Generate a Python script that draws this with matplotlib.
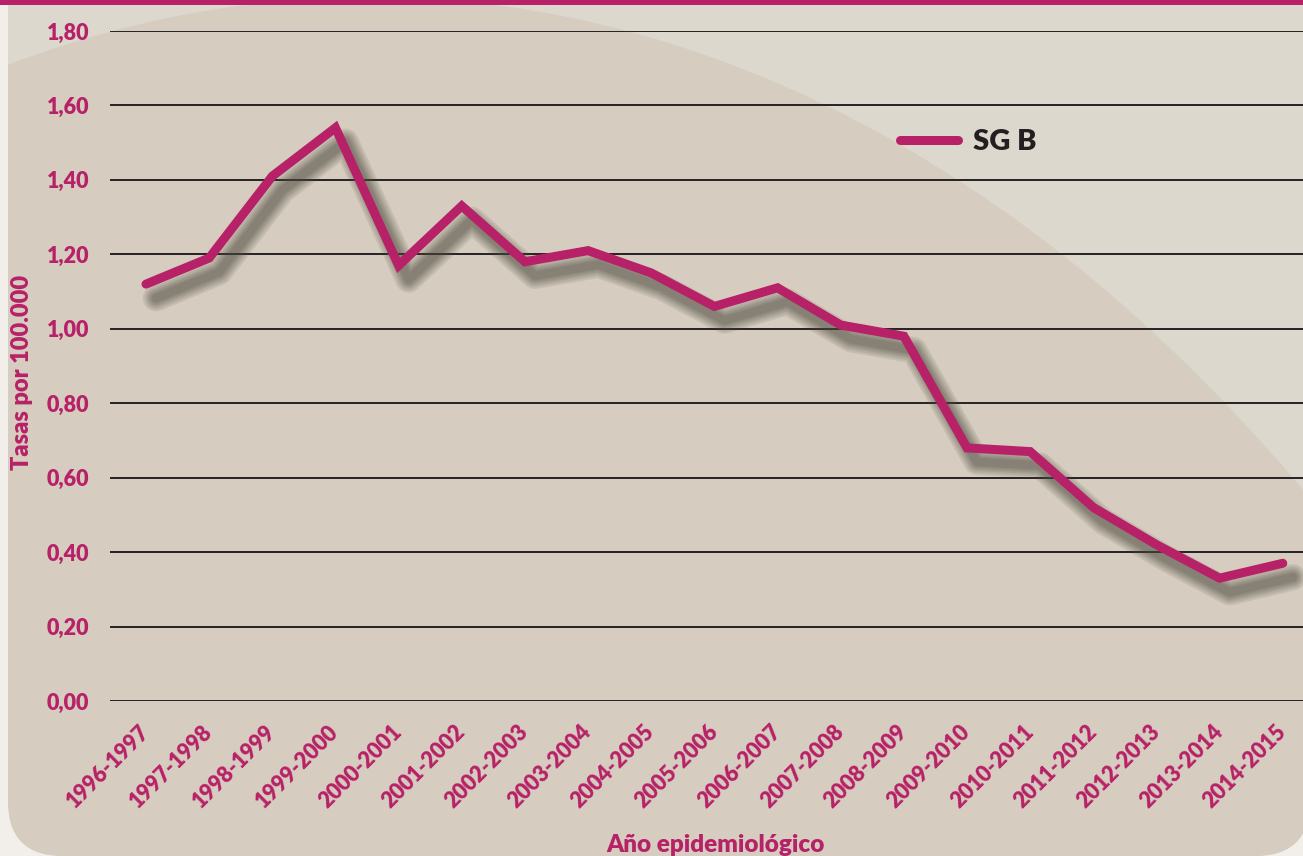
import numpy as np
import matplotlib
matplotlib.use("Agg")
import matplotlib.pyplot as plt
import matplotlib.patches as mpatches
import matplotlib.transforms as mtransforms

# ── data ───────────────────────────────────────────────────────────────────
temporadas = ["1996-1997", "1997-1998", "1998-1999", "1999-2000", "2000-2001",
              "2001-2002", "2002-2003", "2003-2004", "2004-2005", "2005-2006",
              "2006-2007", "2007-2008", "2008-2009", "2009-2010", "2010-2011",
              "2011-2012", "2012-2013", "2013-2014", "2014-2015"]
tasas_sgb = [1.12, 1.19, 1.41, 1.54, 1.17, 1.33, 1.18, 1.21, 1.15, 1.06,
             1.11, 1.01, 0.98, 0.68, 0.67, 0.52, 0.42, 0.33, 0.37]
yticks = [0.0, 0.2, 0.4, 0.6, 0.8, 1.0, 1.2, 1.4, 1.6, 1.8]
ytick_labels = ["0,00", "0,20", "0,40", "0,60", "0,80",
                "1,00", "1,20", "1,40", "1,60", "1,80"]

# ── colours ────────────────────────────────────────────────────────────────
MAGENTA = "#b72167"
OUTER   = "#f2efeb"
PANEL   = "#dcd8cd"
SHADE   = "#d6cdc0"
GRID    = "#262223"
SHADOW  = "#4d4a40"
WEIGHT  = "heavy"

plt.rcParams["font.family"] = ["Lato", "DejaVu Sans"]

W, H = 1303, 856
fig = plt.figure(figsize=(W / 100, H / 100), dpi=100)
fig.patch.set_facecolor(OUTER)

# ── background decoration (pixel coords) ───────────────────────────────────
bg = fig.add_axes([0, 0, 1, 1], zorder=0)
bg.set_xlim(0, W)
bg.set_ylim(H, 0)
bg.axis("off")

panel = mpatches.FancyBboxPatch((8, -80), 1302, 936,
                                boxstyle="round,pad=0,rounding_size=55",
                                facecolor=PANEL, edgecolor="none")
bg.add_patch(panel)
shade = mpatches.Ellipse((370, 2478), 2 * 1560, 2 * 2481,
                         facecolor=SHADE, edgecolor="none")
bg.add_patch(shade)
shade.set_clip_path(panel)
bg.add_patch(mpatches.Rectangle((0, 0), W, 5, facecolor=MAGENTA, edgecolor="none"))

# ── chart ──────────────────────────────────────────────────────────────────
ax = fig.add_axes([110 / W, (H - 701) / H, (W - 110) / W, (701 - 31) / H], zorder=1)
ax.patch.set_alpha(0)
x = np.arange(len(temporadas))

# soft drop shadow: stacked translucent strokes, shifted right/down
shadow_tr = mtransforms.offset_copy(ax.transData, fig=fig, x=10, y=-14, units="dots")
for lw in [19, 16, 13, 10.5, 8, 6]:
    ax.plot(x, tasas_sgb, color=SHADOW, lw=lw, alpha=0.13, transform=shadow_tr,
            solid_capstyle="round", solid_joinstyle="round", zorder=2)

ax.plot(x, tasas_sgb, color=MAGENTA, lw=6.5, solid_capstyle="round",
        solid_joinstyle="miter", zorder=3, label="SG B")

ax.set_xlim(-0.57, 18.32)
ax.set_ylim(0, 1.8)
ax.set_yticks(yticks)
ax.set_yticklabels(ytick_labels)
ax.set_xticks(x)
ax.set_xticklabels(temporadas, rotation=45, ha="right", va="center",
                   rotation_mode="anchor")
ax.tick_params(axis="both", length=0, labelcolor=MAGENTA, labelsize=15.5)
ax.tick_params(axis="y", pad=15)
ax.tick_params(axis="x", pad=20)
for lbl in ax.get_xticklabels() + ax.get_yticklabels():
    lbl.set_fontweight(WEIGHT)

ax.grid(axis="y", color=GRID, lw=1.4, zorder=1)
ax.set_axisbelow(True)
for s in ax.spines.values():
    s.set_visible(False)

fig.text(22 / W, 1 - 372 / H, "Tasas por 100.000", rotation=90, ha="center",
         va="center", color=MAGENTA, fontsize=17, fontweight=WEIGHT)
fig.text(716 / W, 1 - 845 / H, "Año epidemiológico", ha="center", va="center",
         color=MAGENTA, fontsize=17.5, fontweight=WEIGHT)

leg = ax.legend(loc="center left", bbox_to_anchor=(900 / W, 1 - 142 / H),
                bbox_transform=fig.transFigure, frameon=False,
                borderpad=0, borderaxespad=0, handlelength=2.0,
                handletextpad=0.5, prop={"size": 21, "weight": WEIGHT})
for t in leg.get_texts():
    t.set_color("#231f20")

fig.savefig("out.png", dpi=100, facecolor=fig.get_facecolor())
